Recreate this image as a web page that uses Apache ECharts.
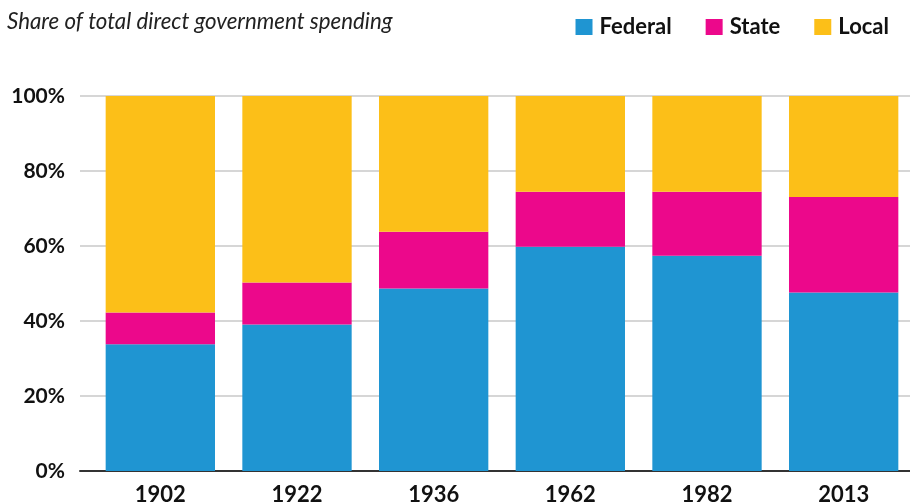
<!DOCTYPE html>
<html>
<head>
<meta charset="utf-8">
<script src="https://cdn.jsdelivr.net/npm/echarts@6/dist/echarts.min.js"></script>
<style>
  html, body { margin: 0; padding: 0; background: #fff; }
  #chart { width: 910px; height: 503px; }
</style>
</head>
<body>
<div id="chart"></div>
<script>
// share of total direct government spending, percent
const years = ["1902", "1922", "1936", "1962", "1982", "2013"]
const federal = [33.8, 39.1, 48.7, 59.8, 57.4, 47.6]
const state = [8.5, 11.2, 15.1, 14.7, 17.1, 25.5]
const local = [57.7, 49.7, 36.2, 25.5, 25.5, 26.9]
const yTicks = [0, 20, 40, 60, 80, 100]

const font = "Lato, 'Noto Sans', sans-serif"

let makeSeries = (name, values, color) => {
    return {
        name: name,
        type: "bar",
        stack: "total",
        xAxisIndex: 1,
        yAxisIndex: 1,
        barWidth: "80%",
        data: values,
        itemStyle: { color: color },
        emphasis: { disabled: true }
    }
}

let chart = echarts.init(document.getElementById("chart"), null, { renderer: "canvas" })

chart.setOption({
    animation: false,
    title: {
        text: "Share of total direct government spending",
        left: 2,
        top: 6,
        textStyle: { fontFamily: font, fontStyle: "italic", fontWeight: "normal", fontSize: 22.3, color: "#222" }
    },
    legend: {
        right: 16,
        top: 11,
        itemWidth: 17,
        itemHeight: 16,
        itemGap: 34,
        icon: "rect",
        data: ["Federal", "State", "Local"],
        textStyle: { fontFamily: font, fontWeight: "bold", fontSize: 22, color: "#111", padding: [0, 0, 0, 2] }
    },
    grid: [
        { left: 80, right: 0, top: 96, bottom: 32, outerBoundsMode: "none" },
        { left: 92, width: 820, top: 96, bottom: 32, outerBoundsMode: "none" }
    ],
    xAxis: [
        {
            // only the dark baseline, spanning the full grid
            gridIndex: 0,
            type: "category",
            data: [""],
            axisLine: { show: true, lineStyle: { color: "#333", width: 2 } },
            axisTick: { show: false },
            axisLabel: { show: false },
            splitLine: { show: false }
        },
        {
            gridIndex: 1,
            type: "category",
            data: years,
            axisLine: { show: false },
            axisTick: { show: false },
            axisLabel: { margin: 13, fontFamily: font, fontWeight: "bold", fontSize: 22, color: "#111" }
        }
    ],
    yAxis: [
        {
            gridIndex: 0,
            type: "value",
            min: yTicks[0],
            max: yTicks[yTicks.length - 1],
            interval: yTicks[1] - yTicks[0],
            axisLine: { show: false },
            axisTick: { show: false },
            axisLabel: { margin: 15, formatter: "{value}%", fontFamily: font, fontWeight: "bold", fontSize: 21, color: "#111" },
            splitLine: { show: true, lineStyle: { color: "#d6d6d6", width: 2 } }
        },
        {
            gridIndex: 1,
            type: "value",
            min: 0,
            max: 100,
            show: false
        }
    ],
    series: [
        makeSeries("Federal", federal, "#1f95d2"),
        makeSeries("State", state, "#ec088b"),
        makeSeries("Local", local, "#fcbf18")
    ]
})
</script>
</body>
</html>
